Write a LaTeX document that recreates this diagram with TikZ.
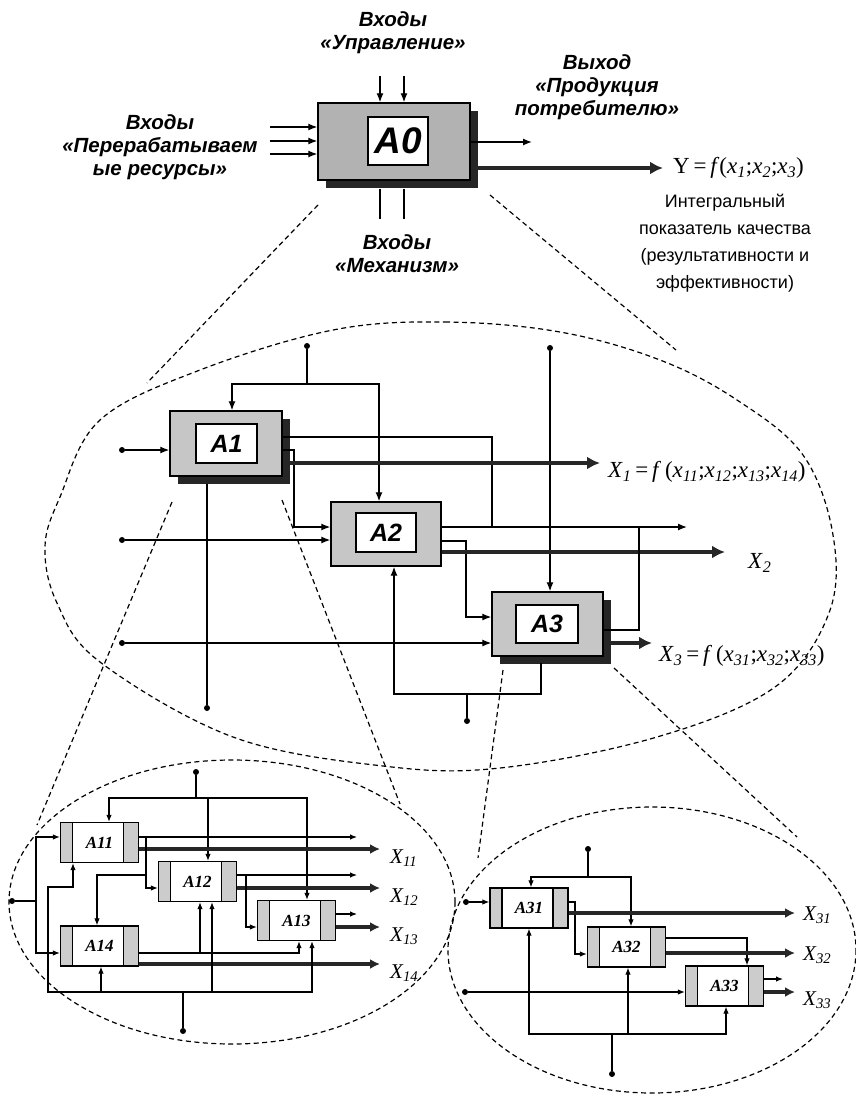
\documentclass[tikz,border=0pt]{standalone}
\usepackage{fontspec}
\setmainfont{Liberation Serif}
\newfontfamily\sansf{Liberation Sans}
\usepackage{tikz}
\usetikzlibrary{positioning,arrows.meta,shadows}

\newcommand{\ixs}[1]{\textsubscript{\itshape #1}}

\begin{document}
\begin{tikzpicture}[x=1pt, y=-1pt,
  ln/.style={line width=1.3pt},
  arr/.style={line width=1.3pt, -{Latex[length=9pt,width=7pt]}},
  thk/.style={line width=4.5pt, draw=black!85, -{Latex[length=13pt,width=13pt]}},
  arrs/.style={line width=1.1pt, -{Latex[length=7pt,width=5.5pt]}},
  thks/.style={line width=3.6pt, draw=black!85, -{Latex[length=10pt,width=10pt]}},
  dot/.style={circle, fill, inner sep=0pt, minimum size=6pt},
  zline/.style={line width=1.2pt, dash pattern=on 5pt off 3.5pt},
  blk/.style={draw, line width=1.4pt, fill=gray!45, inner sep=0pt},
  shd/.style={drop shadow={shadow xshift=8pt, shadow yshift=-8pt, fill=black!85, opacity=1}},
  inbox/.style={draw, line width=1.4pt, fill=white, inner sep=0pt,
                font=\sansf\bfseries\itshape\fontsize{25}{25}\selectfont},
  idef/.style={draw, line width=1.3pt, fill=white, inner sep=0pt,
               minimum width=78pt, minimum height=40pt,
               font=\bfseries\itshape\fontsize{17}{17}\selectfont,
    path picture={
      \fill[gray!40] (path picture bounding box.south west) rectangle ([xshift=12pt]path picture bounding box.north west);
      \fill[gray!40] ([xshift=-15pt]path picture bounding box.south east) rectangle (path picture bounding box.north east);
      \draw[line width=1.3pt] ([xshift=12pt]path picture bounding box.south west) -- ([xshift=12pt]path picture bounding box.north west)
        ([xshift=-15pt]path picture bounding box.south east) -- ([xshift=-15pt]path picture bounding box.north east);
    }},
  lbl/.style={font=\sansf\bfseries\itshape\fontsize{20.5}{23}\selectfont, align=center},
  note/.style={font=\sansf\fontsize{18}{27}\selectfont, align=center},
  fml/.style={font=\fontsize{23}{25}\selectfont, anchor=west, inner sep=0pt},
  xl/.style={font=\itshape\fontsize{21}{22}\selectfont, anchor=west, inner sep=0pt}
]
\fill[white] (0,0) rectangle (856,1095);
\useasboundingbox (0,0) rectangle (856,1095);

%% zoom outlines
\draw[zline] plot[smooth cycle, tension=0.6] coordinates {(333,330) (445,322) (560,332) (660,360)
  (737,400) (803,455) (833,535) (829,613) (775,687) (657,737) (500,768) (383,766) (233,737)
  (100,662) (57,603) (45,547) (60,497) (100,420) (200,370)};
\draw[zline] (232,902) ellipse [x radius=223, y radius=142];
\draw[zline] (652,950) ellipse [x radius=204, y radius=143];
\draw[zline] (318,205) -- (147,383);
\draw[zline] (490,195) -- (676,350);
\draw[zline] (172,502) -- (37,825);
\draw[zline] (282,500) -- (400,804);
\draw[zline] (503,670) -- (478,858);
\draw[zline] (614,668) -- (797,837);

%% level A0
\node[blk, shd, fill=gray!60, minimum width=152pt, minimum height=77pt] (a0) at (394,141.5) {};
\node[inbox, minimum width=60pt, minimum height=48pt,
      font=\sansf\bfseries\itshape\fontsize{37}{37}\selectfont] (a0t) at (398,141) {A0};
\foreach \dx in {-14,10} {
  \draw[arr] ([xshift=\dx pt, yshift=26pt]a0.north) -- ([xshift=\dx pt]a0.north);
  \draw[ln] ([xshift=\dx pt, yshift=-8pt]a0.south) -- ([xshift=\dx pt, yshift=-38pt]a0.south);
}
\foreach \y in {127,141,154}
  \draw[arr] (270,\y) -- (a0.west |- 0,\y);
\draw[arr] (a0.east |- 0,142) -- (532,142);
\draw[thk] (a0.east |- 0,168) -- (663,168);

\node[lbl] (tctl) at (393,33) {Входы\\«Управление»};
\node[lbl] (tin) at (160,147) {Входы\\«Перерабатываем\\ые ресурсы»};
\node[lbl] (tmech) at (397,254) {Входы\\«Механизм»};
\node[lbl] (tout) at (597,87) {Выход\\«Продукция\\потребителю»};
\node[note] (tint) at (725,243) {Интегральный\\показатель качества\\(результативности и\\эффективности)};
\node[fml] (yf) at (673,168) {Y\,=\,\textit{f}(\textit{x}\ixs{1};\textit{x}\ixs{2};\textit{x}\ixs{3})};

%% level A1--A3
\node[blk, shd, minimum width=112pt, minimum height=65pt] (a1) at (226,443.5) {};
\node[inbox, minimum width=61pt, minimum height=39pt] (a1t) at (226.5,443.5) {A1};
\node[blk, minimum width=110pt, minimum height=64pt] (a2) at (386,534) {};
\node[inbox, minimum width=60pt, minimum height=39pt] (a2t) at (386,532.5) {A2};
\node[blk, shd, minimum width=111pt, minimum height=64pt] (a3) at (547.5,624) {};
\node[inbox, minimum width=62pt, minimum height=38pt] (a3t) at (547,624) {A3};

\node[dot] (cA) at (307,346) {};
\node[dot] (cB) at (550,348) {};
\node[dot] (iA) at (122,450) {};
\node[dot] (iB) at (122,540) {};
\node[dot] (iC) at (122,643) {};
\node[dot] (mA) at (207,708) {};
\node[dot] (mB) at (467,721) {};
\coordinate (jA) at (307,384);
\coordinate (jB) at (467,694);

\draw[ln] (cA) -- (jA);
\draw[arr] (jA) -| ([xshift=6pt]a1.north);
\draw[arr] (jA) -| ([xshift=-7pt]a2.north);
\draw[arr] (cB) -- (cB |- a3.north);
\draw[arr] (iA) -- (iA -| a1.west);
\draw[arr] (iB) -- (iB -| a2.west);
\draw[arr] (iC) -- (iC -| a3.west);
\draw[ln] (a1.east |- 0,437) -| (492,527);
\draw[arr] (a1.east |- 0,450) -| (294,527) -- (a2.west |- 0,527);
\draw[thk] (a1.east |- 0,463) -- (600,463);
\draw[arr] (a2.east |- 0,527) -- (687,527);
\draw[arr] (a2.east |- 0,541) -| (466,617) -- (a3.west |- 0,617);
\draw[thk] (a2.east |- 0,552) -- (725,552);
\draw[ln] (a3.east |- 0,630) -| (639,527);
\draw[thk] (a3.east |- 0,643) -- (652,643);
\draw[ln] (mB) -- (jB);
\draw[arr] (jB) -| ([xshift=8pt]a2.south);
\draw[ln] (jB) -| (541,663);
\draw[ln] (mA) -- (mA |- 0,484);

\node[fml] (fx1) at (608,472) {\textit{X}\ixs{1}\,=\,\textit{f}\,(\textit{x}\ixs{11};\textit{x}\ixs{12};\textit{x}\ixs{13};\textit{x}\ixs{14})};
\node[fml] (fx2) at (748,563) {\textit{X}\ixs{2}};
\node[fml] (fx3) at (659,656) {\textit{X}\ixs{3}\,=\,\textit{f}\,(\textit{x}\ixs{31};\textit{x}\ixs{32};\textit{x}\ixs{33})};

%% level A11--A14
\node[idef] (b11) at (99.5,842.5) {A11};
\node[idef] (b12) at (197.5,881.5) {A12};
\node[idef] (b13) at (296.5,920.5) {A13};
\node[idef] (b14) at (99.5,946) {A14};
\node[dot] (dL) at (12,901) {};
\node[dot] (dT) at (196,772) {};
\node[dot] (dB) at (183,1031) {};
\coordinate (jL) at (36,901);
\coordinate (jT) at (196,798);
\coordinate (jK) at (146,875);
\coordinate (jM) at (200,953);
\coordinate (jN) at (246,875);
\coordinate (jD) at (183,992);

\draw[ln] (dL) -- (jL);
\draw[arrs] (jL) |- (b11.west |- 0,837);
\draw[arrs] (jL) |- (b14.west |- 0,953);
\draw[ln] (dT) -- (jT);
\draw[arrs] (jT) -| ([xshift=9.5pt]b11.north);
\draw[arrs] (jT) -| ([xshift=10.5pt]b12.north);
\draw[arrs] (jT) -| ([xshift=10.5pt]b13.north);
\draw[arrs] (b11.east |- 0,837) -- (357,837);
\draw[thks] (b11.east |- 0,849) -- (380,849);
\draw[arrs] (146,837) |- (b12.west |- 0,888);
\draw[arrs] (jK) -| ([xshift=-2.5pt]b14.north);
\draw[arrs] (b12.east |- 0,875) -- (357,875);
\draw[thks] (b12.east |- 0,888) -- (380,888);
\draw[arrs] (jN) |- (b13.west |- 0,927);
\draw[arrs] (b13.east |- 0,914) -- (357,914);
\draw[thks] (b13.east |- 0,927) -- (380,927);
\draw[arrs] (b14.east |- 0,953) -| ([xshift=2.5pt]b13.south);
\draw[arrs] (jM) -- (jM |- b12.south);
\draw[thks] (b14.east |- 0,964) -- (380,964);
\draw[ln] (dB) -- (jD);
\draw[arrs] (jD) -| ([xshift=1.5pt]b14.south);
\draw[arrs] (jD) -| ([xshift=14.5pt]b12.south);
\draw[arrs] (jD) -| ([xshift=15.5pt]b13.south);
\draw[arrs] (jD) -| (48,887) -| ([xshift=-26.5pt]b11.south);

\node[xl] (x11) at (390,858) {X\ixs{11}};
\node[xl] (x12) at (390,897) {X\ixs{12}};
\node[xl] (x13) at (390,936) {X\ixs{13}};
\node[xl] (x14) at (390,973) {X\ixs{14}};

%% level A31--A33
\node[idef] (c31) at (529,908) {A31};
\node[idef] (c32) at (626.5,947) {A32};
\node[idef] (c33) at (724.5,986) {A33};
\node[dot] (eL1) at (466,902) {};
\node[dot] (eL2) at (465,992) {};
\node[dot] (eT) at (588,849) {};
\node[dot] (eB) at (612,1074) {};
\coordinate (kT) at (588,877);
\coordinate (kB) at (612,1034);

\draw[arrs] (eL1) -- (eL1 -| c31.west);
\draw[arrs] (eL2) -- (eL2 -| c33.west);
\draw[ln] (eT) -- (kT);
\draw[arrs] (kT) -| ([xshift=2pt]c31.north);
\draw[arrs] (kT) -| ([xshift=4.5pt]c32.north);
\draw[arrs] (c31.east |- 0,902) -| (575,954) -- (c32.west |- 0,954);
\draw[thks] (c31.east |- 0,913) -- (795,913);
\draw[arrs] (c32.east |- 0,938) -| ([xshift=22.5pt]c33.north);
\draw[thks] (c32.east |- 0,953) -- (795,953);
\draw[arrs] (c33.east |- 0,979) -- (783,979);
\draw[thks] (c33.east |- 0,992) -- (795,992);
\draw[ln] (eB) -- (kB);
\draw[arrs] (kB) -| (c31.south);
\draw[arrs] (kB) -| ([xshift=1.5pt]c32.south);
\draw[arrs] (kB) -| ([xshift=1.5pt]c33.south);

\node[xl] (x31) at (803,915) {X\ixs{31}};
\node[xl] (x32) at (803,955) {X\ixs{32}};
\node[xl] (x33) at (803,1000) {X\ixs{33}};
\end{tikzpicture}
\end{document}
